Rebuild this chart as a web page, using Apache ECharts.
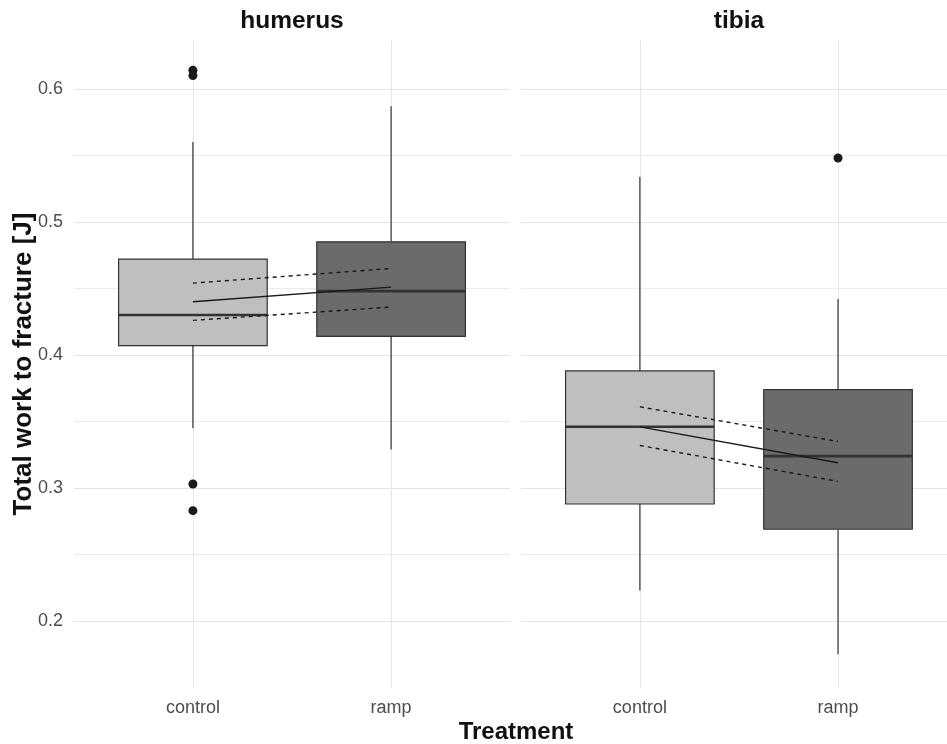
<!DOCTYPE html>
<html>
<head>
<meta charset="utf-8">
<script src="https://cdn.jsdelivr.net/npm/echarts@6/dist/echarts.min.js"></script>
<style>
html,body{margin:0;padding:0;background:#fff;}
#chart{width:947px;height:744px;}
</style>
</head>
<body>
<div id="chart"></div>
<script>
// ---- data ----
const panels = ['humerus', 'tibia'];
const treatments = ['control', 'ramp'];
// [x, min(whisker), Q1, median, Q3, max(whisker)]
const humerusBoxes = [
  [1, 0.345, 0.407, 0.430, 0.472, 0.560],
  [2, 0.329, 0.414, 0.448, 0.485, 0.587]
];
const tibiaBoxes = [
  [1, 0.223, 0.288, 0.346, 0.388, 0.534],
  [2, 0.175, 0.269, 0.324, 0.374, 0.442]
];
const humerusOutliers = [[1, 0.614], [1, 0.610], [1, 0.303], [1, 0.283]];
const tibiaOutliers = [[2, 0.548]];
const humerusFit = [[1, 0.440], [2, 0.451]];
const humerusUpper = [[1, 0.454], [2, 0.465]];
const humerusLower = [[1, 0.426], [2, 0.436]];
const tibiaFit = [[1, 0.346], [2, 0.319]];
const tibiaUpper = [[1, 0.361], [2, 0.335]];
const tibiaLower = [[1, 0.332], [2, 0.305]];
const yTickLabels = [0.2, 0.3, 0.4, 0.5, 0.6];

// ---- styles ----
const FONT = '"Liberation Sans", Arial, sans-serif';
const boxFill = ['#bfbfbf', '#6b6b6b'];
const BOX_W = 0.75;
const Y_MIN = 0.15, Y_MAX = 0.6365;
const X_MAX = [2.6, 2.55]; // right panel is cropped by the image edge
const grids = [
  {left: 74, top: 40.3, width: 436, height: 647.3},
  {left: 521, top: 40.3, width: 426, height: 647.3}
];

function renderBox(params, api) {
  const x = api.value(0);
  const lo = api.coord([x, api.value(1)]);
  const q1 = api.coord([x, api.value(2)]);
  const md = api.coord([x, api.value(3)]);
  const q3 = api.coord([x, api.value(4)]);
  const hi = api.coord([x, api.value(5)]);
  const half = api.size([BOX_W, 0])[0] / 2;
  const stroke = '#333333';
  return {
    type: 'group',
    children: [
      {type: 'line', shape: {x1: lo[0], y1: lo[1], x2: q1[0], y2: q1[1]}, style: {stroke, lineWidth: 1.2}},
      {type: 'line', shape: {x1: q3[0], y1: q3[1], x2: hi[0], y2: hi[1]}, style: {stroke, lineWidth: 1.2}},
      {type: 'rect', shape: {x: q3[0] - half, y: q3[1], width: 2 * half, height: q1[1] - q3[1]},
        style: {fill: boxFill[params.dataIndex], stroke, lineWidth: 1.2}},
      {type: 'line', shape: {x1: md[0] - half, y1: md[1], x2: md[0] + half, y2: md[1]}, style: {stroke, lineWidth: 2.6}}
    ]
  };
}

function yAxisFor(i) {
  return {
    type: 'value', gridIndex: i, min: Y_MIN, max: Y_MAX, interval: 0.05,
    axisLine: {show: false}, axisTick: {show: false},
    axisLabel: {
      show: i === 0, fontSize: 18, color: '#4d4d4d', fontFamily: FONT, margin: 11,
      showMinLabel: false, showMaxLabel: false,
      formatter: function (v) {
        for (const t of yTickLabels) { if (Math.abs(v - t) < 1e-6) return String(t); }
        return '';
      }
    },
    splitLine: {show: true, showMinLine: false, showMaxLine: false, lineStyle: {color: ['#e4e4e4', '#ececec'], width: 1}}
  };
}
function xAxisFor(i) {
  return {
    type: 'value', gridIndex: i, min: 0.4, max: X_MAX[i], interval: 0.2,
    axisLine: {show: false}, axisTick: {show: false}, splitLine: {show: false},
    axisLabel: {
      fontSize: 18, color: '#4d4d4d', fontFamily: FONT, margin: 11,
      showMinLabel: false, showMaxLabel: false,
      formatter: function (v) {
        if (Math.abs(v - 1) < 1e-6) return treatments[0];
        if (Math.abs(v - 2) < 1e-6) return treatments[1];
        return '';
      }
    }
  };
}

function panelSeries(i, boxes, outliers, fit, upper, lower) {
  const lineBase = {type: 'line', xAxisIndex: i, yAxisIndex: i, symbol: 'none', silent: true, z: 4};
  return [
    {
      type: 'line', xAxisIndex: i, yAxisIndex: i, data: [], silent: true, z: 1,
      markLine: {
        silent: true, symbol: ['none', 'none'], z: 1, label: {show: false},
        lineStyle: {color: '#e6e6e6', width: 1, type: 'solid'},
        data: [{xAxis: 1}, {xAxis: 2}]
      }
    },
    {
      type: 'custom', xAxisIndex: i, yAxisIndex: i, z: 3, silent: true,
      data: boxes, encode: {x: 0, y: [1, 2, 3, 4, 5]}, renderItem: renderBox
    },
    Object.assign({}, lineBase, {data: fit, lineStyle: {color: '#1a1a1a', width: 1.4, type: 'solid'}}),
    Object.assign({}, lineBase, {data: upper, lineStyle: {color: '#1a1a1a', width: 1.4, type: [4, 4]}}),
    Object.assign({}, lineBase, {data: lower, lineStyle: {color: '#1a1a1a', width: 1.4, type: [4, 4]}}),
    {
      type: 'scatter', xAxisIndex: i, yAxisIndex: i, data: outliers, symbolSize: 9, z: 5, silent: true,
      itemStyle: {color: '#1a1a1a', opacity: 1}
    }
  ];
}

const chart = echarts.init(document.getElementById('chart'), null, {renderer: 'canvas'});
chart.setOption({
  animation: false,
  backgroundColor: '#ffffff',
  grid: grids,
  xAxis: [xAxisFor(0), xAxisFor(1)],
  yAxis: [yAxisFor(0), yAxisFor(1)],
  series: [].concat(
    panelSeries(0, humerusBoxes, humerusOutliers, humerusFit, humerusUpper, humerusLower),
    panelSeries(1, tibiaBoxes, tibiaOutliers, tibiaFit, tibiaUpper, tibiaLower)
  ),
  graphic: [
    {type: 'text', x: 292, y: 21, style: {text: panels[0], font: 'bold 24.5px ' + FONT, fill: '#111', textAlign: 'center', textVerticalAlign: 'middle'}},
    {type: 'text', x: 739, y: 21, style: {text: panels[1], font: 'bold 24.5px ' + FONT, fill: '#111', textAlign: 'center', textVerticalAlign: 'middle'}},
    {type: 'text', x: 516, y: 732, style: {text: 'Treatment', font: 'bold 24px ' + FONT, fill: '#111', textAlign: 'center', textVerticalAlign: 'middle'}},
    {type: 'text', x: 24, y: 364, rotation: Math.PI / 2, style: {text: 'Total work to fracture [J]', font: 'bold 26px ' + FONT, fill: '#111', textAlign: 'center', textVerticalAlign: 'middle'}}
  ]
});
</script>
</body>
</html>
